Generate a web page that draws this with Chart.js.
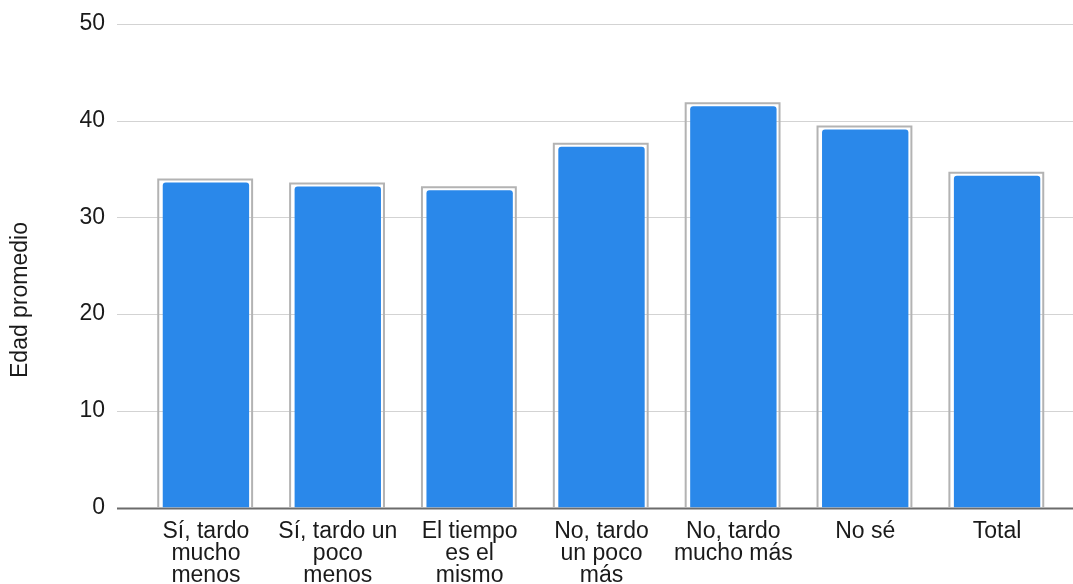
<!DOCTYPE html>
<html>
<head>
<meta charset="utf-8">
<script src="https://cdn.jsdelivr.net/npm/chart.js@4/dist/chart.umd.min.js"></script>
<style>
  html, body { margin: 0; padding: 0; background: #fff; }
  #wrap { width: 1073px; height: 584px; position: relative; }
</style>
</head>
<body>
<div id="wrap"><canvas id="edadChart"></canvas></div>
<script>
// categorias del eje x (ya partidas en lineas)
var categorias = [
  ['Sí, tardo', 'mucho', 'menos'],
  ['Sí, tardo un', 'poco', 'menos'],
  ['El tiempo', 'es el', 'mismo'],
  ['No, tardo', 'un poco', 'más'],
  ['No, tardo', 'mucho más'],
  ['No sé'],
  ['Total']
];
// edad promedio por respuesta
var edadPromedio = [33.6, 33.2, 32.8, 37.3, 41.5, 39.1, 34.3];
var ticksY = [0, 10, 20, 30, 40, 50];
var tituloY = 'Edad promedio';

var fuente = '"Liberation Sans", Arial, sans-serif';
var azul = '#2a88ea';

// lineas horizontales a todo lo ancho, la del cero mas oscura
var lineasFondo = {
  id: 'lineasFondo',
  beforeDatasetsDraw: function(chart) {
    var ctx = chart.ctx;
    var y = chart.scales.y;
    ctx.save();
    for (var i = 0; i < ticksY.length; i++) {
      var py = Math.round(y.getPixelForValue(ticksY[i])) + 0.5;
      ctx.beginPath();
      if (ticksY[i] === 0) {
        ctx.strokeStyle = '#6b6b6b';
        ctx.lineWidth = 2;
      } else {
        ctx.strokeStyle = '#d3d3d3';
        ctx.lineWidth = 1;
      }
      ctx.moveTo(117, py);
      ctx.lineTo(chart.width, py);
      ctx.stroke();
    }
    ctx.restore();
  }
};

// marco gris alrededor de cada barra
var marcoBarras = {
  id: 'marcoBarras',
  afterDatasetsDraw: function(chart) {
    var ctx = chart.ctx;
    var meta = chart.getDatasetMeta(0);
    ctx.save();
    ctx.strokeStyle = '#b3b3b3';
    ctx.lineWidth = 2;
    meta.data.forEach(function(bar) {
      var p = bar.getProps(['x', 'y', 'width', 'base'], true);
      var izq = p.x - p.width / 2 - 4.5;
      var der = p.x + p.width / 2 + 3;
      var arriba = p.y - 3;
      ctx.beginPath();
      ctx.moveTo(izq, p.base);
      ctx.lineTo(izq, arriba);
      ctx.lineTo(der, arriba);
      ctx.lineTo(der, p.base);
      ctx.stroke();
    });
    ctx.restore();
  }
};

// titulo vertical del eje y
var tituloEje = {
  id: 'tituloEje',
  afterDraw: function(chart) {
    var ctx = chart.ctx;
    ctx.save();
    ctx.translate(21, 300);
    ctx.rotate(-Math.PI / 2);
    ctx.font = '23px ' + fuente;
    ctx.fillStyle = '#1a1a1a';
    ctx.textAlign = 'center';
    ctx.textBaseline = 'middle';
    ctx.fillText(tituloY, 0, 0);
    ctx.restore();
  }
};

var ctx = document.getElementById('edadChart');
var grafico = new Chart(ctx, {
  type: 'bar',
  data: {
    labels: categorias,
    datasets: [{
      label: tituloY,
      data: edadPromedio,
      backgroundColor: azul,
      borderWidth: 0,
      borderRadius: { topLeft: 3, topRight: 3, bottomLeft: 0, bottomRight: 0 },
      borderSkipped: 'start',
      categoryPercentage: 1,
      barPercentage: 0.655
    }]
  },
  options: {
    responsive: true,
    maintainAspectRatio: false,
    animation: false,
    layout: { padding: { top: 24, right: 10, bottom: 0, left: 0 } },
    plugins: {
      legend: { display: false },
      tooltip: { enabled: false }
    },
    scales: {
      x: {
        grid: { display: false },
        border: { display: false },
        ticks: {
          color: '#1a1a1a',
          font: { family: fuente, size: 23, lineHeight: 0.96 },
          padding: 5,
          maxRotation: 0,
          autoSkip: false
        },
        afterFit: function(scale) {
          scale.height = 76.5;
          scale.paddingLeft = 0;
          scale.paddingRight = 0;
        }
      },
      y: {
        min: 0,
        max: 50,
        grid: { display: false },
        border: { display: false },
        ticks: {
          stepSize: 10,
          color: '#1a1a1a',
          font: { family: fuente, size: 23 },
          padding: 27
        },
        afterFit: function(scale) {
          scale.width = 140;
          scale.paddingTop = 0;
          scale.paddingBottom = 0;
        }
      }
    }
  },
  plugins: [lineasFondo, marcoBarras, tituloEje]
});
</script>
</body>
</html>
